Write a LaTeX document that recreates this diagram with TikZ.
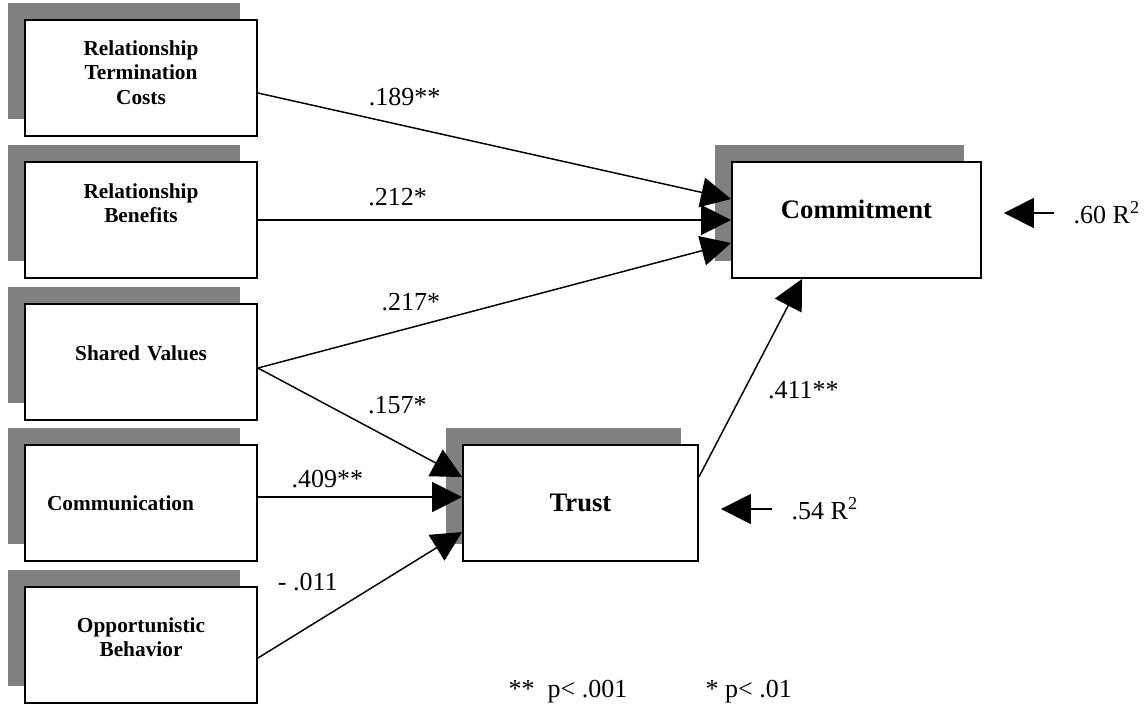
\documentclass[tikz,border=0pt]{standalone}
\usepackage{fontspec}
\setmainfont{Liberation Serif}
\usetikzlibrary{arrows.meta, positioning, shadows}

\begin{document}
\begin{tikzpicture}[x=0.75pt, y=-0.75pt, line width=1.1pt,
    >={Triangle[length=22.5pt, width=22.5pt]},
    shadowbox/.style={draw, fill=white, line width=1.4pt, minimum height=87pt,
      drop shadow={shadow xshift=-12.75pt, shadow yshift=12.75pt, fill=gray, opacity=1}},
    box/.style={shadowbox, minimum width=174pt, text width=141pt, inner xsep=16.5pt,
      align=center, font=\fontsize{16}{18.5}\selectfont\bfseries},
    bigbox/.style={shadowbox, font=\fontsize{20}{24}\selectfont\bfseries},
    raised/.style={text height=0pt, text depth=#1},
    coef/.style={font=\fontsize{19.5}{22}\selectfont, inner sep=2pt}]
    \useasboundingbox (0, 0) rectangle (1145, 704);
    \node [box, raised=34.5pt] (rtc) at (141, 78) {Relationship\\Termination\\Costs};
    \node [box, raised=33pt] (rb) at (141, 220) {Relationship\\Benefits};
    \node [box, raised=3pt] (sv) at (141, 362) {Shared Values};
    \node [box, align=left] (com) at (141, 503) {Communication};
    \node [box, raised=19.5pt] (opp) at (141, 645) {Opportunistic\\Behavior};
    \node [bigbox, minimum width=186.75pt, raised=3pt] (commit) at (856.5, 220) {Commitment};
    \node [bigbox, minimum width=176.25pt] (trust) at (580.5, 503) {Trust};
    \draw [->] ([yshift=-11.25pt]rtc.east) -- node [coef, pos=.31, above=12.4pt] {.189**} ([yshift=15.75pt]commit.west);
    \draw [->] (rb.east) -- node [coef, pos=.295, above=7.9pt] {.212*} (commit.west);
    \draw [->] ([yshift=-4.5pt]sv.east) -- node [coef, pos=.323, above=9.85pt] {.217*} ([yshift=-17.25pt]commit.west);
    \draw [->] ([yshift=-4.5pt]sv.east) -- node [coef, pos=.683, above=19.15pt] {.157*} ([yshift=19.5pt]trust.west);
    \draw [->] ([yshift=4.5pt]com.east) -- node [coef, pos=.34, above=4.15pt] {.409**} ([yshift=4.5pt]trust.west);
    \draw [->] ([yshift=-9.75pt]opp.east) -- node [coef, pos=.244, above=24.4pt] {- .011} ([yshift=-21.75pt]trust.west);
    \draw [->] ([yshift=19.5pt]trust.east) -- node [coef, pos=.44, right=15.25pt] {.411**} ([xshift=53.25pt]commit.south west);
    \node [coef, inner sep=0, anchor=west] (r2commit) at (1073, 213) {.60 R\textsuperscript{2}};
    \node [coef, inner sep=0, anchor=west] (r2trust) at (791, 509) {.54 R\textsuperscript{2}};
    \draw [->, shorten <=14pt, shorten >=16.5pt] (r2commit.west) -- (r2commit.west -| commit.east);
    \draw [->, shorten <=14pt, shorten >=16.5pt] (r2trust.west) -- (r2trust.west -| trust.east);
    \node [coef, inner sep=0, anchor=base west] (sig1) at (508, 697) {**\ \ p< .001};
    \node [coef, inner sep=0, anchor=base west] (sig2) at (705, 697) {* p< .01};
  \end{tikzpicture}
\end{document}
